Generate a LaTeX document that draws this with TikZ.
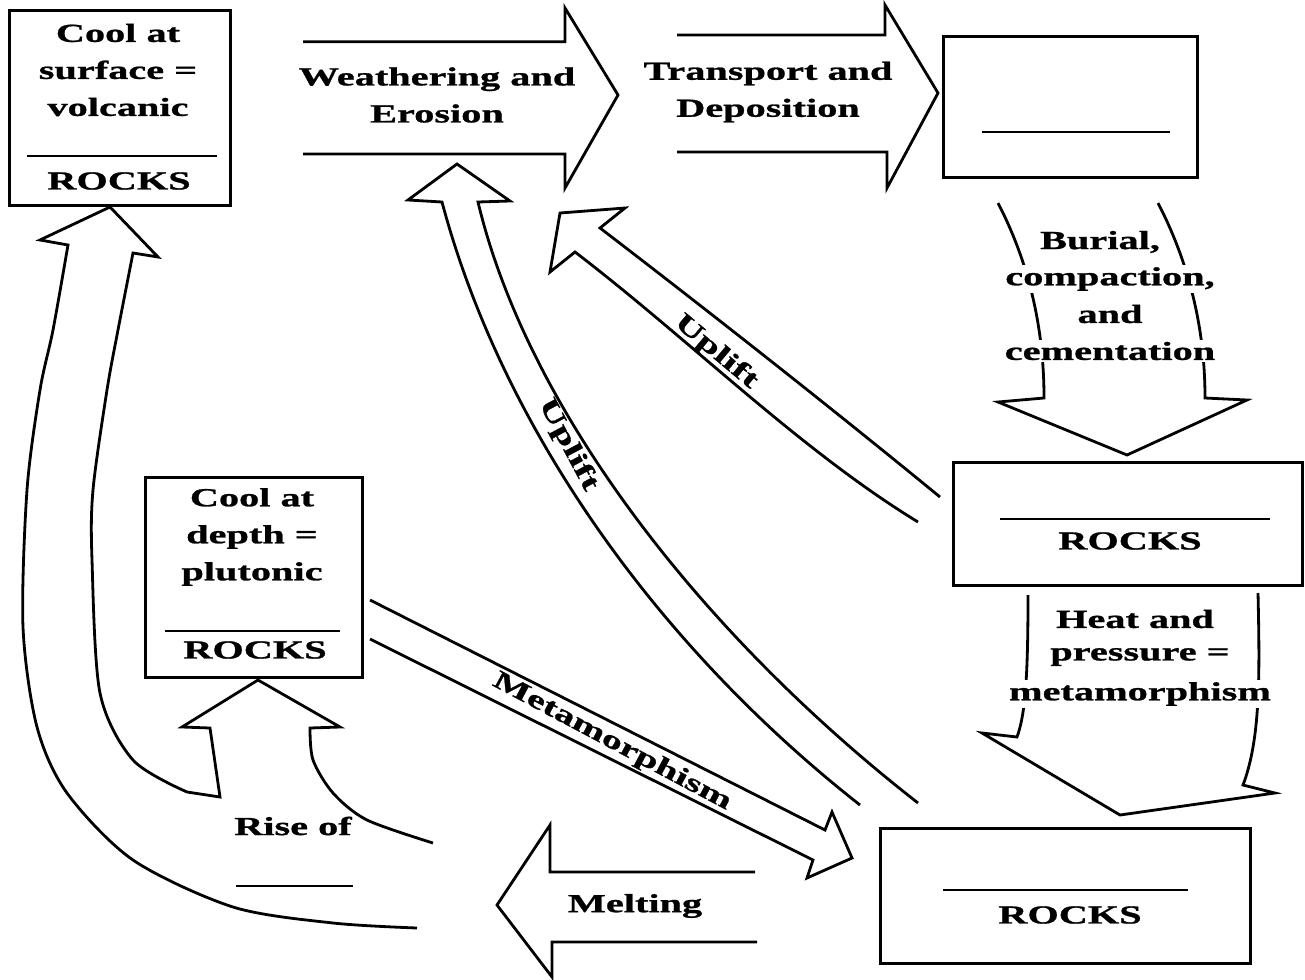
\documentclass[tikz,border=0pt]{standalone}
\usepackage{fontspec}
\newfontfamily\tf{Liberation Serif}[FakeStretch=1.55,FakeBold=1]
\begin{document}
\begin{tikzpicture}[x=1pt,y=-1pt]
\tikzset{
  lbl/.style={font=\tf\bfseries\fontsize{26}{37}\selectfont, align=center, inner sep=1pt},
  wlbl/.style={lbl, fill=white, inner sep=2pt},
  rockbox/.style={draw, line width=3pt, inner sep=0pt},
  shp/.style={draw, line width=2.8pt, line join=miter},
  blank/.style={line width=2pt}
}
\useasboundingbox (0,0) rectangle (1305,979);

% block arrows
\draw[shp] (303,41.7) -- (565,41.7) -- (565,8) -- (618,95) -- (565,188) -- (565,154) -- (303,154);
\draw[shp] (677,35) -- (885,35) -- (885,5) -- (938,93) -- (887,188) -- (887,152) -- (677,152);
\draw[shp] (998,203) .. controls (1030,265) and (1044,330) .. (1044,398) -- (998,402) -- (1127,455) -- (1247,400) -- (1205,398) .. controls (1205,330) and (1190,265) .. (1158,203);
\draw[shp] (1028,595) .. controls (1028,680) and (1025,715) .. (1017,737) -- (982,733) -- (1120,815) -- (1275,793) -- (1243,785) .. controls (1260,740) and (1260,680) .. (1258,593);
\draw[shp] (370,600) -- (825,830) -- (832,812) -- (852,858) -- (807,878) -- (813,860) -- (370,639);
\draw[shp] (755,872) -- (550,872) -- (550,825) -- (497,905) -- (552,977) -- (552,942) -- (757,942);
\draw[shp] (860,805) .. controls (650,640) and (500,420) .. (442,202) -- (408,200) -- (457,164) -- (510,201) -- (478,202) .. controls (525,400) and (690,625) .. (918,803);
\draw[shp] (918,522) .. controls (800,450) and (690,340) .. (575,252) -- (550,272) -- (560,213) -- (625,208) -- (600,228) .. controls (720,320) and (840,415) .. (940,497);
\draw[shp] plot[smooth] coordinates {(417,928) (333,923) (233,907) (133,860) (67,793) (37,727) (23,627) (27,490) (40,390) (53,330) (68,245)} -- (40,240) -- (110,207) -- (158,257) -- (133,253) -- plot[smooth] coordinates {(133,253) (118,330) (107,390) (93,490) (92,560) (100,693) (133,760) (187,792)} -- (220,797) -- (210,728) -- (182,727) -- (258,680) -- (340,727) -- (310,728) -- plot[smooth] coordinates {(310,728) (313,760) (333,793) (367,820) (433,843)};

% boxes
\node[rockbox, minimum width=221pt, minimum height=194pt] (volc) at (119.5,108) {};
\node[rockbox, minimum width=254pt, minimum height=140pt] (sed) at (1070,107) {};
\node[rockbox, minimum width=349pt, minimum height=123pt] (sedr) at (1127.5,523.5) {};
\node[rockbox, minimum width=370pt, minimum height=135pt] (meta) at (1065,895.5) {};
\node[rockbox, minimum width=217pt, minimum height=200pt] (plut) at (253.5,577) {};

% blanks
\draw[blank] (27,156) -- (217,156);
\draw[blank] (982,132) -- (1170,132);
\draw[blank] (1000,519) -- (1270,519);
\draw[blank] (943,890) -- (1188,890);
\draw[blank] (165,631) -- (340,631);
\draw[blank] (236,886) -- (353,886);

% labels
\node[lbl] (volcT) at (118,70) {Cool at\\surface =\\volcanic};
\node[lbl] (volcR) at (119,181) {ROCKS};
\node[lbl] (plutT) at (252,537) {Cool at\\depth =\\plutonic};
\node[lbl] (plutR) at (255,650) {ROCKS};
\node[lbl] (sedrR) at (1130,541) {ROCKS};
\node[lbl] (metaR) at (1070,915) {ROCKS};
\node[lbl] (weath) at (437,95) {Weathering and\\Erosion};
\node[lbl] (trans) at (768,92) {Transport and\\Deposition};
\node[wlbl] (bur1) at (1100,242) {Burial,};
\node[wlbl] (bur2) at (1110,279) {compaction,};
\node[wlbl] (bur3) at (1110,314) {and};
\node[wlbl] (bur4) at (1110,351) {cementation};
\node[wlbl] (heat1) at (1135,619) {Heat and};
\node[wlbl] (heat2) at (1140,657) {pressure =};
\node[wlbl] (heat3) at (1140,694) {metamorphism};
\node[lbl] (melt) at (635,906) {Melting};
\node[lbl] (rise) at (293,826) {Rise of};
\node[lbl, rotate=-62] (up1) at (568,445) {Uplift};
\node[lbl, rotate=-40] (up2) at (716,352) {Uplift};
\node[lbl, rotate=-28] (metam) at (612,742) {Metamorphism};
\end{tikzpicture}
\end{document}
